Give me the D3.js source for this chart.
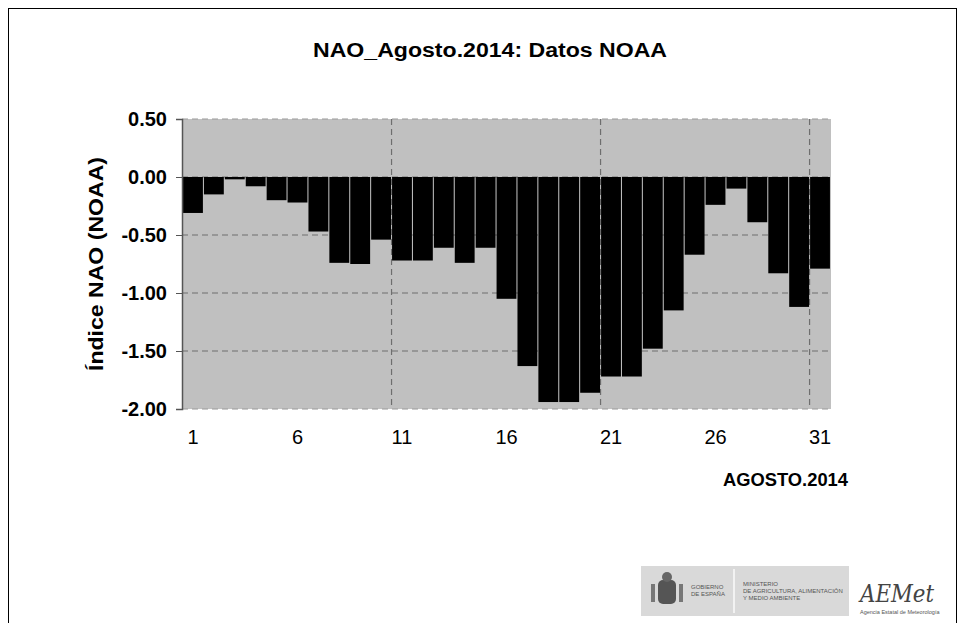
<!DOCTYPE html>
<html>
<head>
<meta charset="utf-8">
<script src="https://cdn.jsdelivr.net/npm/d3@7"></script>
<style>
  body { margin: 0; background: #fff; }
  svg text { font-family: "Liberation Sans", Arial, sans-serif; }
</style>
</head>
<body>
<nao-chart></nao-chart>
<script>
// NAO daily index, August 2014 (NOAA)
const days = d3.range(1, 32);
const naoValues = [
  -0.31, -0.15, -0.02, -0.08, -0.20, -0.22, -0.47, -0.74, -0.75, -0.54,
  -0.72, -0.72, -0.61, -0.74, -0.61, -1.05, -1.63, -1.94, -1.94, -1.86,
  -1.72, -1.72, -1.48, -1.15, -0.67, -0.24, -0.10, -0.39, -0.83, -1.12,
  -0.79
];
const yTicks = [0.5, 0, -0.5, -1, -1.5, -2];
const xTickLabels = [1, 6, 11, 16, 21, 26, 31];
const xGridDays = [11, 21, 31];

class NaoChart extends HTMLElement {

  connectedCallback() {
    const W = 959, H = 623;
    const margin = {top: 119, right: 128, bottom: 214, left: 182};
    const width = W - margin.left - margin.right;
    const height = H - margin.top - margin.bottom;

    var svg = d3.select(this)
      .append("svg")
        .attr("width", W)
        .attr("height", H);

    // outer frame
    svg.append("rect")
      .attr("x", 8.5).attr("y", 8.5)
      .attr("width", 948).attr("height", 640)
      .attr("fill", "none")
      .attr("stroke", "#000");

    svg.append("text")
      .attr("x", 490).attr("y", 57)
      .attr("text-anchor", "middle")
      .style("font-size", "20px").style("font-weight", "bold")
      .attr("textLength", 354).attr("lengthAdjust", "spacingAndGlyphs")
      .text("NAO_Agosto.2014: Datos NOAA");

    var g = svg.append("g")
      .attr("transform", "translate(" + margin.left + "," + margin.top + ")");

    const x = d3.scaleBand().domain(days).range([0, width]).padding(0.05);
    const y = d3.scaleLinear().domain([-2, 0.5]).range([height, 0]);

    this._buildGrid(g, x, y, width, height);
    this._buildBars(g, x, y);
    this._buildAxes(g, x, y, height);

    svg.append("text")
      .attr("transform", "translate(103," + (margin.top + height / 2) + ")rotate(-90)")
      .attr("text-anchor", "middle")
      .style("font-size", "20px").style("font-weight", "bold")
      .attr("textLength", 214).attr("lengthAdjust", "spacingAndGlyphs")
      .text("Índice NAO (NOAA)");

    svg.append("text")
      .attr("x", 848).attr("y", 486)
      .attr("text-anchor", "end")
      .style("font-size", "19px").style("font-weight", "bold")
      .attr("textLength", 125).attr("lengthAdjust", "spacingAndGlyphs")
      .text("AGOSTO.2014");

    this._buildLogo(svg);
  }

  _buildGrid(g, x, y, width, height) {
    g.append("rect")
      .attr("width", width).attr("height", height)
      .attr("fill", "#c0c0c0");

    g.selectAll(".hgrid")
      .data(yTicks)
      .enter().append("line")
        .attr("x1", 0).attr("x2", width)
        .attr("y1", d => y(d)).attr("y2", d => y(d))
        .attr("stroke", d => (d === 0.5 || d === -2) ? "#9a9a9a" : "#6e6e6e")
        .attr("stroke-width", 1.2)
        .attr("stroke-dasharray", "6,4");

    const step = x.step();
    g.selectAll(".vgrid")
      .data(xGridDays)
      .enter().append("line")
        .attr("x1", d => x(d) - step * x.paddingInner() / 2)
        .attr("x2", d => x(d) - step * x.paddingInner() / 2)
        .attr("y1", 0).attr("y2", height)
        .attr("stroke", "#6e6e6e")
        .attr("stroke-width", 1.2)
        .attr("stroke-dasharray", "6,4");
  }

  _buildBars(g, x, y) {
    g.selectAll(".bar")
      .data(naoValues)
      .enter().append("rect")
        .attr("x", (d, i) => x(days[i]))
        .attr("y", d => y(Math.max(0, d)))
        .attr("width", x.bandwidth())
        .attr("height", d => Math.abs(y(d) - y(0)))
        .attr("fill", "#000");
  }

  _buildAxes(g, x, y, height) {
    var ya = g.append("g")
      .call(d3.axisLeft(y).tickValues(yTicks).tickSize(6).tickPadding(9)
        .tickFormat(d => d.toFixed(2)));
    ya.select(".domain").attr("stroke", "#555").attr("stroke-width", 1.5);
    ya.selectAll(".tick line").attr("stroke", "#555");
    ya.selectAll("text")
      .style("font-size", "20px").style("font-weight", "bold")
      .style("font-family", "'Liberation Sans', Arial, sans-serif")
      .attr("fill", "#000");

    var xa = g.append("g")
      .attr("transform", "translate(0," + height + ")")
      .call(d3.axisBottom(x).tickValues(xTickLabels).tickSize(0).tickPadding(21));
    xa.select(".domain").remove();
    xa.selectAll("text")
      .style("font-size", "20px")
      .style("font-family", "'Liberation Sans', Arial, sans-serif")
      .attr("fill", "#000");
  }

  _buildLogo(svg) {
    var logo = svg.append("g").attr("transform", "translate(641,566)");
    logo.append("rect")
      .attr("width", 208).attr("height", 50)
      .attr("fill", "#d9d9d9");
    logo.append("line")
      .attr("x1", 93).attr("x2", 93).attr("y1", 3).attr("y2", 47)
      .attr("stroke", "#f2f2f2").attr("stroke-width", 2);
    // coat of arms (rough)
    logo.append("rect")
      .attr("x", 17).attr("y", 14).attr("width", 18).attr("height", 24)
      .attr("rx", 5).attr("fill", "#555");
    logo.append("circle")
      .attr("cx", 26).attr("cy", 11).attr("r", 5).attr("fill", "#666");
    logo.append("rect")
      .attr("x", 10).attr("y", 18).attr("width", 4).attr("height", 18).attr("fill", "#777");
    logo.append("rect")
      .attr("x", 38).attr("y", 18).attr("width", 4).attr("height", 18).attr("fill", "#777");
    const small = [
      {x: 50, y: 23, t: "GOBIERNO"}, {x: 50, y: 30, t: "DE ESPAÑA"},
      {x: 102, y: 20, t: "MINISTERIO"},
      {x: 102, y: 27, t: "DE AGRICULTURA, ALIMENTACIÓN"},
      {x: 102, y: 34, t: "Y MEDIO AMBIENTE"}
    ];
    logo.selectAll(".lt")
      .data(small)
      .enter().append("text")
        .attr("x", d => d.x).attr("y", d => d.y)
        .style("font-size", "6px")
        .attr("fill", "#555")
        .text(d => d.t);

    svg.append("text")
      .attr("x", 860).attr("y", 602)
      .style("font-size", "25px").style("font-style", "italic")
      .style("font-family", "'DejaVu Serif', serif")
      .attr("textLength", 74).attr("lengthAdjust", "spacingAndGlyphs")
      .attr("fill", "#444")
      .text("AEMet");
    svg.append("text")
      .attr("x", 860).attr("y", 614)
      .style("font-size", "5.5px")
      .attr("fill", "#555")
      .text("Agencia Estatal de Meteorología");
  }
}

customElements.define('nao-chart', NaoChart);
</script>
</body>
</html>
